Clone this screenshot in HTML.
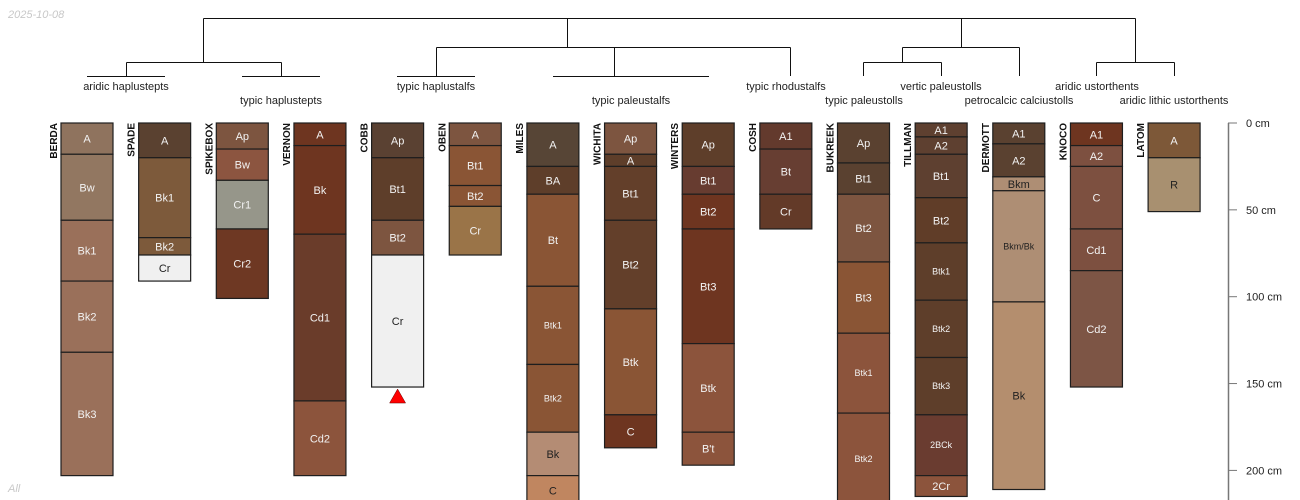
<!DOCTYPE html>
<html><head><meta charset="utf-8"><style>
html,body{margin:0;padding:0;background:#fff;width:1300px;height:500px;overflow:hidden}
svg{display:block;font-family:"Liberation Sans",sans-serif}
</style></head><body>
<svg id="chart" width="1300" height="500" viewBox="0 0 1300 500">
<text x="8" y="18" font-size="11" font-style="italic" fill="#c8c8c8">2025-10-08</text>
<text x="8" y="492" font-size="11" font-style="italic" fill="#c8c8c8">All</text>
<g id="dendro" stroke="#111" stroke-width="1" fill="none">
<path d="M203.5 18.5H1135.5 M203.5 18.5V62.5 M126.5 62.5H281.5 M126.5 62.5V76 M281.5 62.5V76 M87 76.5H165 M242 76.5H320"/>
<path d="M567.5 18.5V47.5 M436.5 47.5H790.5 M436.5 47.5V76 M397 76.5H475 M614.5 47.5V76 M553 76.5H709 M790.5 47.5V76"/>
<path d="M961.5 18.5V47.5 M902.5 47.5H1019.5 M902.5 47.5V62.5 M863.5 62.5H941.5 M863.5 62.5V76 M941.5 62.5V76 M1019.5 47.5V76"/>
<path d="M1135.5 18.5V62.5 M1096.5 62.5H1174.5 M1096.5 62.5V76 M1174.5 62.5V76"/>
</g>
<g font-size="11" fill="#222" text-anchor="middle">
<text x="126" y="90">aridic haplustepts</text>
<text x="281" y="104">typic haplustepts</text>
<text x="436" y="90">typic haplustalfs</text>
<text x="631" y="104">typic paleustalfs</text>
<text x="786" y="90">typic rhodustalfs</text>
<text x="864" y="104">typic paleustolls</text>
<text x="941" y="90">vertic paleustolls</text>
<text x="1019" y="104">petrocalcic calciustolls</text>
<text x="1097" y="90">aridic ustorthents</text>
<text x="1174" y="104">aridic lithic ustorthents</text>
</g>
<g id="profiles"></g>
<g id="axis"></g>
</svg>
<script>
const profileNames = ["BERDA","SPADE","SPIKEBOX","VERNON","COBB","OBEN","MILES","WICHITA","WINTERS","COSH","BUKREEK","TILLMAN","DERMOTT","KNOCO","LATOM"];
const horizonDepths = [
 [0,18,56,91,132,203],
 [0,20,66,76,91],
 [0,15,33,61,101],
 [0,13,64,160,203],
 [0,20,56,76,152],
 [0,13,36,48,76],
 [0,25,41,94,139,178,203,220],
 [0,18,25,56,107,168,187],
 [0,25,41,61,127,178,197],
 [0,15,41,61],
 [0,23,41,80,121,167,220],
 [0,8,18,43,69,102,135,168,203,215],
 [0,12,31,39,103,211],
 [0,13,25,61,85,152],
 [0,20,51]
];
const horizonNames = [
 ["A","Bw","Bk1","Bk2","Bk3"],
 ["A","Bk1","Bk2","Cr"],
 ["Ap","Bw","Cr1","Cr2"],
 ["A","Bk","Cd1","Cd2"],
 ["Ap","Bt1","Bt2","Cr"],
 ["A","Bt1","Bt2","Cr"],
 ["A","BA","Bt","Btk1","Btk2","Bk","C"],
 ["Ap","A","Bt1","Bt2","Btk","C"],
 ["Ap","Bt1","Bt2","Bt3","Btk","B't"],
 ["A1","Bt","Cr"],
 ["Ap","Bt1","Bt2","Bt3","Btk1","Btk2"],
 ["A1","A2","Bt1","Bt2","Btk1","Btk2","Btk3","2BCk","2Cr"],
 ["A1","A2","Bkm","Bkm/Bk","Bk"],
 ["A1","A2","C","Cd1","Cd2"],
 ["A","R"]
];
const horizonColors = [
 ["#8f735e","#927761","#9a705a","#9a705a","#9a705a"],
 ["#5a4130","#7d5a3b","#7d5a3b","#f0f0f0"],
 ["#7d5540","#8c5540","#96968a","#6e3823"],
 ["#6e3520","#6e3520","#6a3c2a","#8c543c"],
 ["#5a4132","#5e3e2a","#7d5540","#f0f0f0"],
 ["#7d5540","#8a5535","#8a5535","#9a7448"],
 ["#574536","#5e3e2a","#8a5535","#8a5535","#8a5535","#b48c74","#c08660"],
 ["#7d5540","#5e3e2a","#633f2a","#633f2a","#8a5535","#6e3520"],
 ["#5e3e2a","#673c30","#6e3520","#6e3520","#8c543c","#8c543c"],
 ["#633a2d","#673e32","#633a28"],
 ["#5a4130","#5a4130","#7d5540","#8a5535","#8c543c","#8c543c"],
 ["#5e4030","#5e4030","#5e4030","#603d28","#5e3e2a","#5e3e2a","#5e3e2a","#6a3c30","#8c543c"],
 ["#5a4130","#5a4130","#ae8e74","#ae8e74","#b48e6e"],
 ["#6e3520","#7d5040","#7d5040","#7d5040","#7d5545"],
 ["#7d5838","#a89070"]
];
const darkTextColors = ["#f0f0f0","#b48c74","#c08660","#ae8e74","#b48e6e","#a89070"];
const smallLabels = ["Btk1","Btk2","Btk3","2BCk","Bkm/Bk"];
const axisTicks = [0,50,100,150,200];

const NS = "http://www.w3.org/2000/svg";
const y0 = 123, pxPerCm = 1.737;
function yScale(d){ return y0 + d * pxPerCm; }
function xLeft(i){ return 61 + i * 77.65; }
const colW = 52;
function mk(tag, attrs, parent){
  const e = document.createElementNS(NS, tag);
  for (const k in attrs) e.setAttribute(k, attrs[k]);
  parent.appendChild(e);
  return e;
}
const gP = document.getElementById("profiles");
profileNames.forEach((name, i) => {
  const g = mk("g", {}, gP);
  
  
  const x = xLeft(i);
  const d = horizonDepths[i];
  for (let h = 0; h < d.length - 1; h++) {
    const top = yScale(d[h]), bot = yScale(d[h+1]);
    const r = mk("rect", {x: x, y: top, width: colW, height: bot - top, fill: horizonColors[i][h], stroke: "#1e1e1e", "stroke-width": 1.2}, g);
    
    
    const lab = horizonNames[i][h];
    const small = smallLabels.includes(lab);
    const t = mk("text", {x: x + colW/2, y: (top + bot)/2 + (small ? 3 : 4), "text-anchor": "middle", "font-size": small ? 9 : 11,
      fill: darkTextColors.includes(horizonColors[i][h]) ? "#222" : "#f2f2f2"}, g);
    t.textContent = lab;
    
    
  }
  const nt = mk("text", {transform: "translate(" + (x - 4) + "," + y0 + ") rotate(-90)", "text-anchor": "end", "font-size": 10, "font-weight": "bold", fill: "#111"}, g);
  nt.textContent = name;
  
  
  if (name === "COBB") {
    const b = yScale(d[d.length-1]);
    const cx = x + colW/2;
    const tri = mk("polygon", {points: (cx-8)+","+(b+16)+" "+(cx+8)+","+(b+16)+" "+cx+","+(b+2), fill: "#ff0000", stroke: "#600", "stroke-width": 0.5}, g);
    
    
  }
});
const gA = document.getElementById("axis");


mk("line", {x1: 1228.5, x2: 1228.5, y1: y0, y2: 500, stroke: "#777", "stroke-width": 1.5}, gA);
axisTicks.forEach(v => {
  const y = yScale(v);
  mk("line", {x1: 1228, x2: 1237, y1: y, y2: y, stroke: "#777", "stroke-width": 1}, gA);
  const t = mk("text", {x: 1246, y: y + 4, "font-size": 11, fill: "#222"}, gA);
  t.textContent = v + " cm";
  
  
});
</script>
</body></html>
